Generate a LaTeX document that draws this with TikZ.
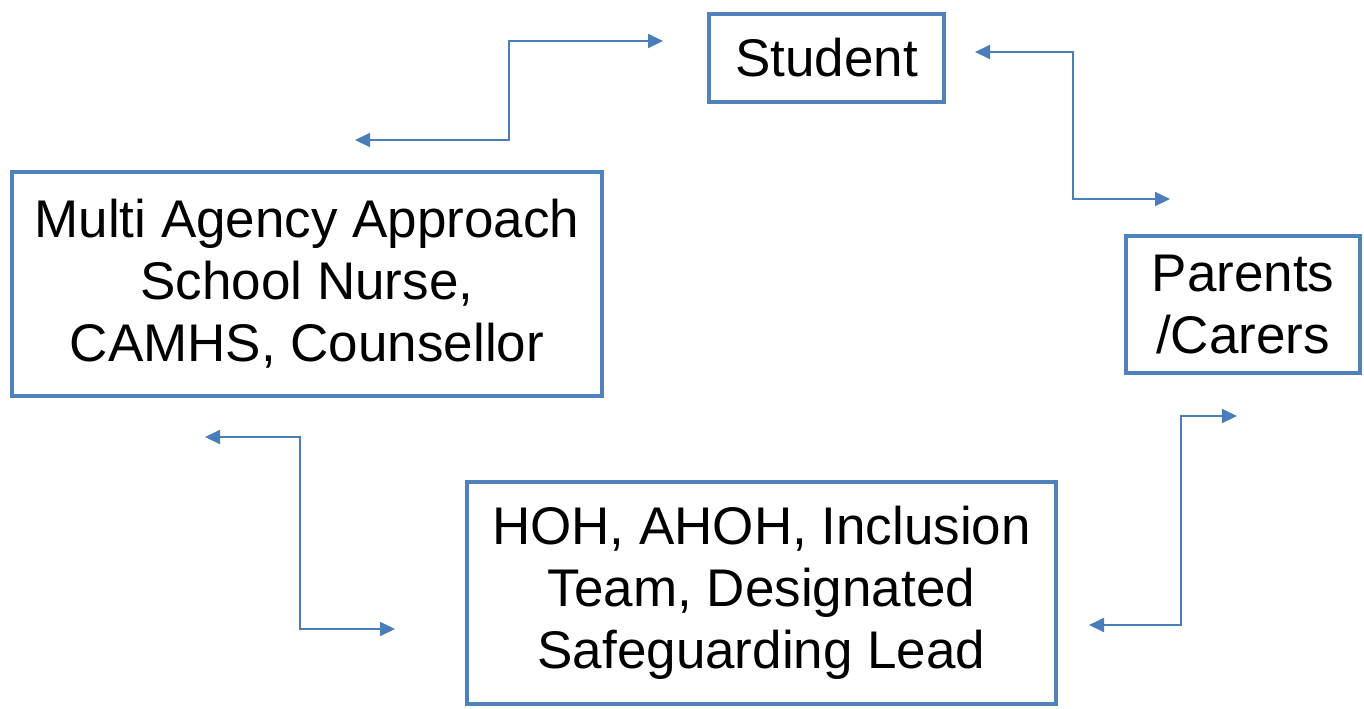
\documentclass[tikz,border=0pt]{standalone}
\usepackage{fontspec}
\setmainfont{Liberation Sans}
\usetikzlibrary{arrows.meta}
\definecolor{boxblue}{HTML}{4F81BD}
\definecolor{linkblue}{HTML}{4A7EBB}
\tikzset{
    partner/.style={draw=boxblue, line width=2pt, rectangle, inner sep=0pt,
        align=center, font=\fontsize{26.5}{31}\selectfont},
    link/.style={draw=linkblue, line width=1pt, {Triangle[length=7.5pt,width=7pt]}-{Triangle[length=7.5pt,width=7pt]}}
}
\begin{document}
\begin{tikzpicture}[x=0.5pt,y=-0.5pt]
    \useasboundingbox (0,0) rectangle (1364,708);
    % the four boxes
    \node[partner, minimum width=117.5pt, minimum height=44pt] (student) at (826.5,58) {Student};
    \node[partner, minimum width=295pt, minimum height=112pt] (agency) at (307,284)
        {Multi Agency Approach\\School Nurse,\\CAMHS, Counsellor};
    \node[partner, minimum width=117pt, minimum height=68.5pt] (parents) at (1243,304.5)
        {Parents\\/Carers};
    \node[partner, minimum width=294.5pt, minimum height=111pt] (hoh) at (761.5,593)
        {HOH, AHOH, Inclusion\\Team, Designated\\Safeguarding Lead};
    % ends and corners of the links
    \coordinate (a1) at (355,140);
    \coordinate (m1) at (509,90);
    \coordinate (b1) at (663,41);
    \coordinate (a2) at (975,52);
    \coordinate (m2) at (1073,125);
    \coordinate (b2) at (1170,199);
    \coordinate (a3) at (205,437);
    \coordinate (m3) at (300,533);
    \coordinate (b3) at (395,629);
    \coordinate (a4) at (1237,416);
    \coordinate (m4) at (1181,520);
    \coordinate (b4) at (1089,625);
    \draw[link] (a1) -| (m1) |- (b1);
    \draw[link] (a2) -| (m2) |- (b2);
    \draw[link] (a3) -| (m3) |- (b3);
    \draw[link] (a4) -| (m4) |- (b4);
\end{tikzpicture}
\end{document}
